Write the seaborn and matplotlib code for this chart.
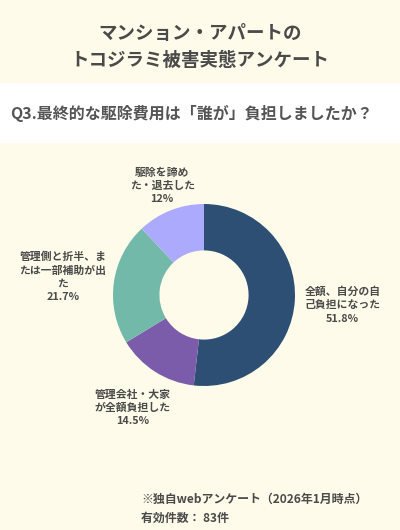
import matplotlib
matplotlib.use('Agg')
import seaborn as sns
from matplotlib import pyplot as plt
from matplotlib.patches import Rectangle

title = 'マンション・アパートの\nトコジラミ被害実態アンケート'
question = 'Q3.最終的な駆除費用は「誰が」負担しましたか？'
labels = ['全額、自分の自\n己負担になった',
          '管理会社・大家\nが全額負担した',
          '管理側と折半、ま\nたは一部補助が出\nた',
          '駆除を諦め\nた・退去した']
values = [51.8, 14.5, 21.7, 12]
pct_text = ['51.8%', '14.5%', '21.7%', '12%']
colors = ['#2d4f73', '#7b5cab', '#72b9a9', '#abaafc']
footer = ['※独自webアンケート（2026年1月時点）', '有効件数： 83件']

# label centres in donut coords (radius = 1)
label_pos = [(1.52, -0.11), (-0.78, -1.24), (-1.55, 0.20), (-0.46, 1.20)]

sns.set_theme(style='white')
plt.rcParams['font.family'] = ['Noto Sans CJK JP', 'DejaVu Sans']

bg = '#fefbea'
ink = '#4a4a4a'

fig = plt.figure(figsize=(4, 5.3), dpi=100)
fig.patch.set_facecolor(bg)
# white band behind question
fig.patches.append(Rectangle((0, 1 - 142 / 530), 1, 59 / 530,
                             transform=fig.transFigure, color='white', zorder=0))

fig.text(0.5, 1 - 47 / 530, title, ha='center', va='center', fontsize=13.3,
         fontweight='bold', color=ink, linespacing=1.5)
fig.text(10 / 400, 1 - 113 / 530, question, ha='left', va='center',
         fontsize=11.5, fontweight='bold', color='#555555')

ax = fig.add_axes([(204 - 91) / 400, 1 - (295 + 91) / 530, 182 / 400, 182 / 530])
ax.set_facecolor(bg)
ax.pie(values, colors=colors, startangle=90, counterclock=False,
       radius=1.0, wedgeprops=dict(width=0.51, edgecolor='none'))
ax.set_xlim(-1, 1)
ax.set_ylim(-1, 1)
ax.set_aspect('equal')
ax.axis('off')

for lab, pct, (x, y) in zip(labels, pct_text, label_pos):
    ax.text(x, y, lab + '\n' + pct, ha='center', va='center', fontsize=7.8,
            fontweight='bold', color=ink, linespacing=1.4, clip_on=False)

fig.text(141 / 400, 1 - 499 / 530, footer[0], ha='left', va='center',
         fontsize=8.6, fontweight='bold', color=ink)
fig.text(141 / 400, 1 - 518 / 530, footer[1], ha='left', va='center',
         fontsize=8.6, fontweight='bold', color=ink)

fig.savefig('out.png', dpi=100, facecolor=bg)
